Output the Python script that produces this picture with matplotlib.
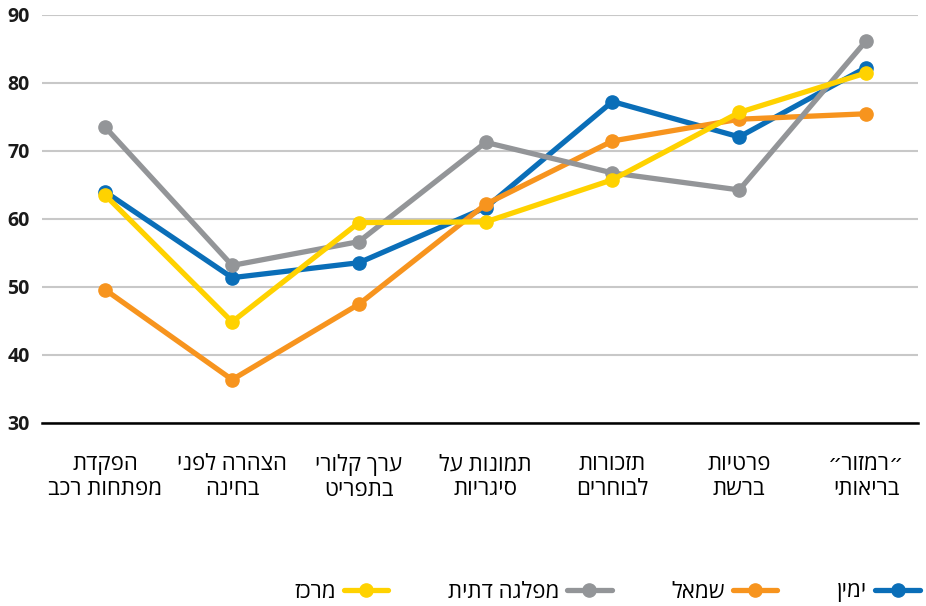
import numpy as np
import matplotlib.pyplot as plt

plt.rcParams['font.family'] = ['Open Sans', 'DejaVu Sans']


def rtl(s):
    # matplotlib draws left to right, so flip each Hebrew line
    return "\n".join(line[::-1] for line in s.split("\n"))


categories = [
    "הפקדת\nמפתחות רכב",
    "הצהרה לפני\nבחינה",
    "ערך קלורי\nבתפריט",
    "תמונות על\nסיגריות",
    "תזכורות\nלבוחרים",
    "פרטיות\nברשת",
    "״רמזור״\nבריאותי",
]

right_wing = [63.9, 51.3, 53.5, 61.6, 77.2, 72.0, 82.2]
left_wing = [49.5, 36.3, 47.4, 62.1, 71.4, 74.6, 75.4]
religious = [73.4, 53.1, 56.6, 71.2, 66.7, 64.2, 86.1]
center = [63.4, 44.8, 59.4, 59.5, 65.7, 75.6, 81.4]

series = [
    ("ימין", right_wing, "#0A6EB8"),
    ("שמאל", left_wing, "#F7941E"),
    ("מפלגה דתית", religious, "#939598"),
    ("מרכז", center, "#FFD200"),
]

fig = plt.figure(figsize=(9.26, 6.06), dpi=100)
ax = fig.add_axes([42 / 926, 1 - 422.5 / 606, 876 / 926, 408 / 606])

x = np.arange(len(categories))
handles = {}
for name, vals, color in series:
    ln, = ax.plot(x, vals, color=color, lw=3.8, marker="o", markersize=9.5,
                  solid_capstyle="round", label=rtl(name))
    handles[name] = ln

ax.set_xlim(-0.5, len(categories) - 1 + 0.41)
ax.set_ylim(30, 90)
ax.set_yticks(range(30, 91, 10))
ax.yaxis.grid(True, color="#C8C8C8", lw=1.5)
ax.set_axisbelow(True)
for s in ["left", "right", "top"]:
    ax.spines[s].set_visible(False)
ax.spines["bottom"].set_linewidth(1.8)
ax.spines["bottom"].set_color("black")
ax.tick_params(axis="both", length=0)
ax.tick_params(axis="y", pad=9, labelsize=14, labelcolor="#1a1a1a")
for t in ax.get_yticklabels():
    t.set_fontweight("bold")
    t.set_horizontalalignment("right")

ax.set_xticks(x)
ax.set_xticklabels([rtl(c) for c in categories], fontsize=16,
                   linespacing=1.25, color="black")
ax.tick_params(axis="x", pad=23)

order = ["מרכז", "מפלגה דתית", "שמאל", "ימין"]
leg = fig.legend([handles[n] for n in order], [rtl(n) for n in order],
                 loc="center", bbox_to_anchor=(607 / 926, 1 - 592 / 606),
                 ncol=4, frameon=False, markerfirst=False, fontsize=16,
                 handlelength=2.0, columnspacing=2.7, handletextpad=0.35)

fig.savefig("out.png", dpi=100)
